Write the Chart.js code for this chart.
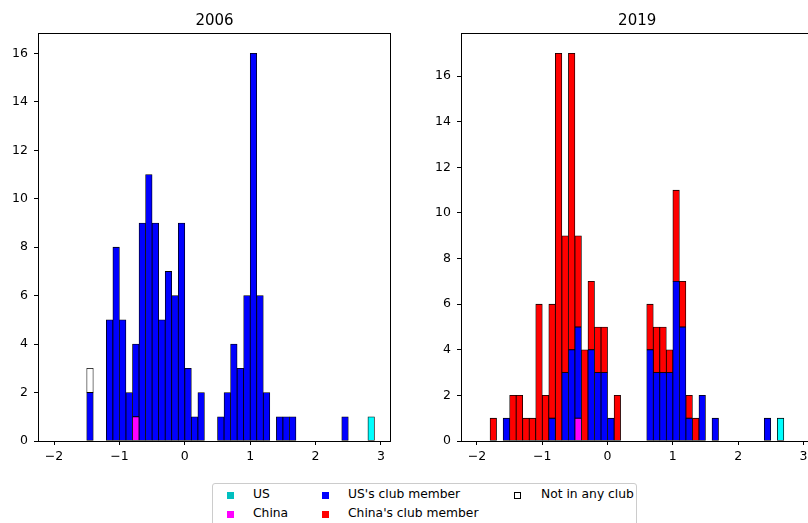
<!DOCTYPE html>
<html><head><meta charset="utf-8">
<script src="https://cdn.jsdelivr.net/npm/chart.js@4.4.1/dist/chart.umd.min.js"></script>
<style>
html,body{margin:0;padding:0;width:808px;height:523px;overflow:hidden;background:#fff;font-family:"DejaVu Sans",sans-serif;}
#c1{position:absolute;left:0;top:0;}
#c2{position:absolute;left:420px;top:0;}
#legend{position:absolute;left:212px;top:483px;width:425px;height:50px;border:1px solid #cccccc;border-radius:3px;box-sizing:border-box;background:#fff;}
.txt{position:absolute;font-size:12.3px;line-height:15px;color:#000;white-space:nowrap;}
.mk{position:absolute;width:7px;height:7px;box-sizing:border-box;}
</style></head>
<body>
<canvas id="c1" width="391" height="470"></canvas>
<canvas id="c2" width="420" height="470"></canvas>
<div id="legend"></div>
<script>
// ---------- data ----------
const seriesNames = ["US", "China", "US's club member", "China's club member", "Not in any club"];
const titles = ["2006", "2019"];
const xTickValues = [-2, -1, 0, 1, 2, 3];
const yTickValues = [0, 2, 4, 6, 8, 10, 12, 14, 16];

const bins2006      = [-1.45,-1.15,-1.05,-0.95,-0.85,-0.75,-0.65,-0.55,-0.45,-0.35,-0.25,-0.15,-0.05,0.05,0.15,0.25,0.55,0.65,0.75,0.85,0.95,1.05,1.15,1.25,1.45,1.55,1.65,2.45,2.85];
const us2006        = [0,0,0,0,0,0,0,0,0,0,0,0,0,0,0,0,0,0,0,0,0,0,0,0,0,0,0,0,1];
const china2006     = [0,0,0,0,0,1,0,0,0,0,0,0,0,0,0,0,0,0,0,0,0,0,0,0,0,0,0,0,0];
const usClub2006    = [2,5,8,5,2,3,9,11,9,5,7,6,9,3,1,2,1,2,4,3,6,16,6,2,1,1,1,1,0];
const chinaClub2006 = [0,0,0,0,0,0,0,0,0,0,0,0,0,0,0,0,0,0,0,0,0,0,0,0,0,0,0,0,0];
const noClub2006    = [1,0,0,0,0,0,0,0,0,0,0,0,0,0,0,0,0,0,0,0,0,0,0,0,0,0,0,0,0];

const bins2019      = [-1.75,-1.55,-1.45,-1.35,-1.25,-1.15,-1.05,-0.95,-0.85,-0.75,-0.65,-0.55,-0.45,-0.35,-0.25,-0.15,-0.05,0.05,0.15,0.65,0.75,0.85,0.95,1.05,1.15,1.25,1.35,1.45,1.65,2.45,2.65];
const us2019        = [0,0,0,0,0,0,0,0,0,0,0,0,0,0,0,0,0,0,0,0,0,0,0,0,0,0,0,0,0,0,1];
const china2019     = [0,0,0,0,0,0,0,0,0,0,0,0,1,0,0,0,0,0,0,0,0,0,0,0,0,0,0,0,0,0,0];
const usClub2019    = [0,1,0,0,0,0,0,0,1,0,3,4,4,0,4,3,3,1,0,4,3,3,3,7,5,1,0,2,1,1,0];
const chinaClub2019 = [1,0,2,2,1,1,6,2,5,17,6,13,4,4,3,2,2,0,2,2,2,2,1,4,2,1,1,0,0,0,0];
const noClub2019    = [0,0,0,0,0,0,0,0,0,0,0,0,0,0,0,0,0,0,0,0,0,0,0,0,0,0,0,0,0,0,0];

// ---------- styles ----------
const barColors = ["#00ffff", "#ff00ff", "#0000ff", "#ff0000", "#ffffff"];
const legendColors = ["#00bfbf", "#ff00ff", "#0000ff", "#ff0000", "#ffffff"];

Chart.defaults.font.family = "'DejaVu Sans', sans-serif";
Chart.defaults.font.size = 12.5;
Chart.defaults.color = "#000";

const frame = {
  id: 'frame',
  afterDatasetsDraw(chart) {
    const a = chart.chartArea, ctx = chart.ctx;
    ctx.save();
    ctx.strokeStyle = '#000';
    ctx.lineWidth = 1;
    ctx.strokeRect(a.left + 0.5, a.top - 0.5, a.right - a.left - 1, a.bottom - a.top + 1);
    ctx.restore();
  }
};

const fmt = v => v < 0 ? '\u2212' + Math.abs(v) : String(v);

function makeChart(id, title, bins, series, yMax, padRight) {
  const datasets = series.map((vals, i) => ({
    label: seriesNames[i],
    data: bins.map((b, j) => ({ x: b, y: vals[j] === 0 ? null : vals[j] })),
    backgroundColor: barColors[i],
    borderColor: '#000',
    borderWidth: 0.8,
    borderSkipped: false,
    barPercentage: 1,
    categoryPercentage: 1
  }));
  return new Chart(document.getElementById(id), {
    type: 'bar',
    data: { datasets },
    plugins: [frame],
    options: {
      responsive: false,
      devicePixelRatio: 1,
      animation: false,
      layout: { padding: { left: 0, right: padRight, top: 0, bottom: 0 } },
      plugins: {
        legend: { display: false },
        tooltip: { enabled: false },
        title: {
          display: true, text: title, fullSize: false,
          font: { size: 15, weight: 'normal' }, color: '#000',
          padding: { top: 12, bottom: 4 }
        }
      },
      scales: {
        x: {
          type: 'linear', stacked: true, offset: false,
          min: -2.245, max: 3.153,
          afterBuildTicks: s => { s.ticks = xTickValues.map(v => ({ value: v })); },
          afterFit: s => { s.height = 29; },
          ticks: { callback: fmt, padding: 4, maxRotation: 0, autoSkip: false },
          grid: { display: true, drawOnChartArea: false, drawTicks: true, tickLength: 4, color: '#000', offset: false },
          border: { display: false }
        },
        y: {
          type: 'linear', stacked: true, min: 0, max: yMax,
          afterBuildTicks: s => { s.ticks = yTickValues.map(v => ({ value: v })); },
          afterFit: s => { s.width = (id === 'c1') ? 38 : 41; },
          ticks: { callback: fmt, padding: 6, autoSkip: false },
          grid: { display: true, drawOnChartArea: false, drawTicks: true, tickLength: 4, color: '#000' },
          border: { display: false }
        }
      }
    }
  });
}

makeChart('c1', titles[0], bins2006, [us2006, china2006, usClub2006, chinaClub2006, noClub2006], 16.8, 0);
makeChart('c2', titles[1], bins2019, [us2019, china2019, usClub2019, chinaClub2019, noClub2019], 17.85, 26.6);

// ---------- legend ----------
const legendPos = [
  { mx: 14, tx: 40, cy: 11 },   // US
  { mx: 14, tx: 40, cy: 30 },   // China
  { mx: 109, tx: 135, cy: 11 }, // US's club
  { mx: 109, tx: 135, cy: 30 }, // China's club
  { mx: 301, tx: 328, cy: 11 }  // none
];
const lg = document.getElementById('legend');
seriesNames.forEach((name, i) => {
  const p = legendPos[i];
  const m = document.createElement('div');
  m.className = 'mk';
  m.style.left = p.mx + 'px';
  m.style.top = (p.cy - 3.5) + 'px';
  m.style.background = legendColors[i];
  if (i === 4) m.style.border = '1px solid #000';
  lg.appendChild(m);
  const t = document.createElement('div');
  t.className = 'txt';
  t.style.left = p.tx + 'px';
  t.style.top = (p.cy - 8) + 'px';
  t.textContent = name;
  lg.appendChild(t);
});
</script>
</body></html>
